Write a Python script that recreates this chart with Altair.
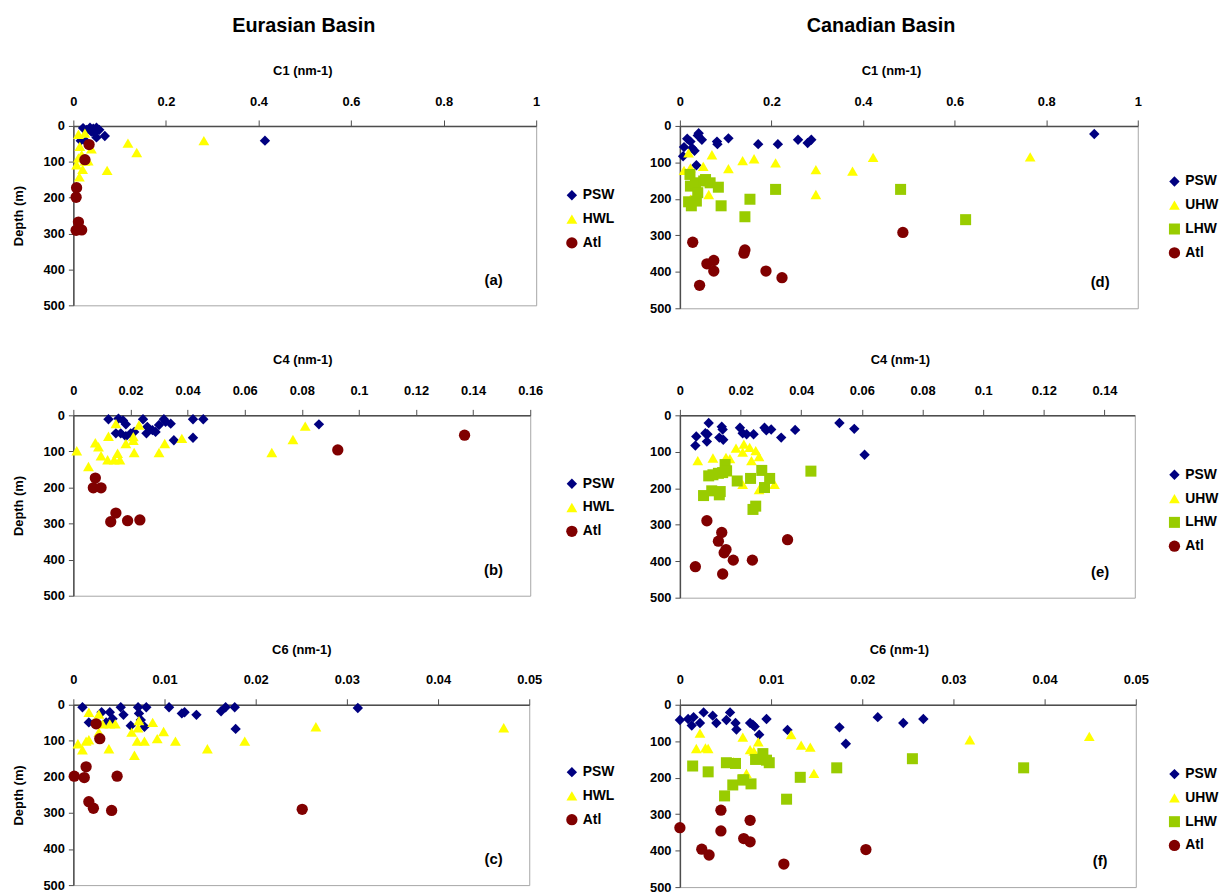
import altair as alt
import pandas as pd

# ---- depth profiles of CDOM absorption components, (value nm-1, depth m) ----
A_PSW = [(0.021, 6), (0.029, 11), (0.036, 5), (0.043, 8), (0.050, 5), (0.056, 11), (0.046, 20),
         (0.050, 32), (0.068, 28), (0.016, 41), (0.027, 43), (0.039, 16), (0.414, 41)]
A_HWL = [(0.011, 23), (0.025, 20), (0.118, 48), (0.137, 74), (0.282, 41), (0.073, 124), (0.014, 57),
         (0.039, 64), (0.018, 80), (0.032, 97), (0.007, 108), (0.020, 121), (0.013, 142), (0.025, 98),
         (0.011, 89)]
A_ATL = [(0.034, 52), (0.025, 94), (0.007, 172), (0.006, 199), (0.011, 268), (0.006, 291), (0.018, 290)]

B_PSW = [(0.0123, 11), (0.0158, 9), (0.0174, 14), (0.0184, 25), (0.0149, 50), (0.0166, 50), (0.0184, 58),
         (0.0201, 50), (0.0213, 46), (0.0244, 11), (0.0259, 32), (0.0256, 50), (0.0277, 41), (0.0288, 46),
         (0.0300, 27), (0.0317, 11), (0.0323, 18), (0.0341, 23), (0.0352, 69), (0.0419, 11), (0.0419, 62),
         (0.0455, 11), (0.0860, 25)]
B_HWL = [(0.0012, 98), (0.0053, 142), (0.0077, 76), (0.0088, 87), (0.0097, 112), (0.0120, 123), (0.0123, 58),
         (0.0149, 23), (0.0155, 105), (0.0143, 123), (0.0163, 123), (0.0184, 78), (0.0210, 59), (0.0210, 69),
         (0.0213, 103), (0.0230, 27), (0.0300, 103), (0.0320, 78), (0.0380, 64), (0.0695, 103), (0.0769, 67),
         (0.0812, 30)]
B_ATL = [(0.0077, 174), (0.0070, 201), (0.0097, 201), (0.0149, 271), (0.0131, 295), (0.0190, 292),
         (0.0233, 290), (0.0926, 96), (0.1370, 55)]

C_PSW = [(0.0010, 7), (0.0017, 49), (0.0031, 21), (0.0040, 21), (0.0043, 39), (0.0036, 49), (0.0052, 7),
         (0.0055, 28), (0.0063, 58), (0.0071, 7), (0.0072, 24), (0.0080, 7), (0.0078, 61), (0.0074, 42),
         (0.0105, 7), (0.0119, 24), (0.0122, 21), (0.0135, 28), (0.0162, 18), (0.0167, 7), (0.0177, 7),
         (0.0178, 67), (0.0312, 9)]
C_HWL = [(0.0017, 21), (0.0028, 26), (0.0032, 53), (0.0040, 53), (0.0046, 53), (0.0028, 76), (0.0005, 108),
         (0.0010, 125), (0.0014, 101), (0.0017, 97), (0.0039, 122), (0.0064, 76), (0.0071, 64), (0.0072, 44),
         (0.0067, 140), (0.0070, 101), (0.0078, 101), (0.0087, 49), (0.0092, 94), (0.0099, 74), (0.0112, 101),
         (0.0147, 122), (0.0188, 101), (0.0266, 61), (0.0472, 64)]
C_ATL = [(0.0025, 53), (0.0029, 94), (0.0014, 172), (0.0001, 198), (0.0012, 202), (0.0048, 198),
         (0.0017, 269), (0.0022, 287), (0.0042, 293), (0.0251, 290)]

D_PSW = [(0.009, 58), (0.007, 83), (0.016, 35), (0.023, 43), (0.027, 61), (0.032, 68), (0.036, 108),
         (0.041, 20), (0.039, 26), (0.048, 38), (0.081, 43), (0.082, 50), (0.106, 34), (0.171, 50),
         (0.214, 50), (0.258, 38), (0.279, 47), (0.287, 38), (0.905, 22)]
D_UHW = [(0.019, 74), (0.009, 122), (0.023, 115), (0.051, 111), (0.070, 79), (0.106, 117), (0.137, 95),
         (0.162, 90), (0.209, 101), (0.297, 120), (0.297, 188), (0.377, 124), (0.422, 86), (0.063, 188),
         (0.023, 201), (0.765, 85)]
D_LHW = [(0.022, 133), (0.023, 165), (0.034, 156), (0.039, 183), (0.036, 206), (0.019, 208), (0.025, 219),
         (0.052, 151), (0.056, 147), (0.066, 156), (0.084, 168), (0.090, 219), (0.142, 249), (0.153, 201),
         (0.209, 174), (0.482, 174), (0.624, 257)]
D_ATL = [(0.028, 319), (0.059, 378), (0.074, 369), (0.074, 398), (0.043, 437), (0.140, 349), (0.142, 340),
         (0.188, 398), (0.223, 416), (0.487, 292)]

E_PSW = [(0.0054, 58), (0.0051, 83), (0.0084, 49), (0.0095, 21), (0.0091, 52), (0.0089, 72), (0.0130, 61),
         (0.0138, 31), (0.0141, 39), (0.0143, 67), (0.0198, 34), (0.0207, 49), (0.0220, 52), (0.0243, 52),
         (0.0279, 34), (0.0285, 41), (0.0301, 39), (0.0334, 61), (0.0380, 40), (0.0526, 21), (0.0575, 37),
         (0.0609, 108)]
E_UHW = [(0.0059, 124), (0.0109, 117), (0.0152, 115), (0.0165, 119), (0.0185, 90), (0.0207, 101),
         (0.0211, 79), (0.0230, 88), (0.0236, 124), (0.0250, 97), (0.0261, 113), (0.0207, 189), (0.0261, 204),
         (0.0312, 189), (0.0154, 155)]
E_LHW = [(0.0078, 220), (0.0105, 207), (0.0133, 209), (0.0130, 218), (0.0095, 166), (0.0109, 163),
         (0.0127, 159), (0.0141, 157), (0.0149, 135), (0.0154, 152), (0.0189, 180), (0.0233, 173),
         (0.0270, 151), (0.0279, 198), (0.0296, 173), (0.0241, 258), (0.0250, 249), (0.0432, 153)]
E_ATL = [(0.0089, 289), (0.0138, 321), (0.0127, 345), (0.0152, 368), (0.0146, 377), (0.0176, 397),
         (0.0239, 397), (0.0355, 341), (0.0051, 415), (0.0141, 435)]

F_PSW = [(0.0000, 42), (0.0009, 39), (0.0015, 34), (0.0013, 57), (0.0022, 50), (0.0026, 21), (0.0036, 30),
         (0.0040, 50), (0.0051, 42), (0.0055, 21), (0.0061, 50), (0.0062, 68), (0.0077, 50), (0.0080, 55),
         (0.0082, 60), (0.0087, 82), (0.0095, 39), (0.0118, 69), (0.0175, 62), (0.0182, 107), (0.0217, 34),
         (0.0245, 50), (0.0267, 39)]
F_UHW = [(0.0022, 78), (0.0018, 120), (0.0028, 118), (0.0031, 120), (0.0069, 89), (0.0073, 188),
         (0.0077, 123), (0.0081, 127), (0.0086, 102), (0.0122, 82), (0.0133, 111), (0.0143, 116),
         (0.0147, 188), (0.0059, 156), (0.0318, 96), (0.0449, 87)]
F_LHW = [(0.0014, 168), (0.0031, 184), (0.0051, 159), (0.0061, 161), (0.0058, 220), (0.0049, 250),
         (0.0069, 206), (0.0070, 206), (0.0078, 217), (0.0083, 150), (0.0091, 134), (0.0095, 152),
         (0.0098, 159), (0.0117, 259), (0.0132, 199), (0.0172, 173), (0.0255, 148), (0.0377, 173)]
F_ATL = [(0.0000, 337), (0.0045, 289), (0.0045, 346), (0.0077, 317), (0.0070, 367), (0.0077, 376),
         (0.0024, 396), (0.0032, 412), (0.0114, 437), (0.0204, 397)]

DEPTH_TICKS = [0, 100, 200, 300, 400, 500]
C1_TICKS = [0, 0.2, 0.4, 0.6, 0.8, 1]
C4_TICKS_EUR = [0, 0.02, 0.04, 0.06, 0.08, 0.1, 0.12, 0.14, 0.16]
C4_TICKS_CAN = [0, 0.02, 0.04, 0.06, 0.08, 0.1, 0.12, 0.14]
C6_TICKS = [0, 0.01, 0.02, 0.03, 0.04, 0.05]

# series styling: colour, marker, marker area
STYLE = {
    "PSW": ("#000080", "diamond", 110),
    "HWL": ("#FFFF00", "triangle-up", 130),
    "UHW": ("#FFFF00", "triangle-up", 130),
    "LHW": ("#99CC00", "square", 85),
    "Atl": ("#800000", "circle", 85),
}

FONT = "Liberation Sans"


def panel(series, tag, domain, ticks, xtitle, width, height, title_x, legend_x, legend_y,
          ytitle=True, top_title=None, top_dx=0):
    rows = []
    for k, (name, pts) in enumerate(series):
        for val, dep in pts:
            rows.append({"water": name, "c": val, "depth": dep, "k": k})
    df = pd.DataFrame(rows)
    order = [name for name, _ in series]
    leg = alt.Legend(orient="none", legendX=legend_x, legendY=legend_y, title=None,
                     labelFont=FONT, labelFontSize=14, labelFontWeight="bold", labelColor="black",
                     symbolSize=55, symbolStrokeWidth=0, rowPadding=10, padding=0, labelOffset=4)
    pts = alt.Chart(df).mark_point(filled=True, opacity=1, strokeWidth=0).encode(
        x=alt.X("c:Q",
                scale=alt.Scale(domain=domain, nice=False, zero=True),
                axis=alt.Axis(orient="top", values=ticks, format="~g", title=xtitle,
                              titleX=title_x, titleY=-56, titleBaseline="middle", titleAlign="center",
                              labelFlush=False, labelOverlap=False, tickSize=6, labelPadding=12)),
        y=alt.Y("depth:Q",
                scale=alt.Scale(domain=[0, 500], reverse=True, nice=False),
                axis=alt.Axis(values=DEPTH_TICKS, title="Depth (m)" if ytitle else None,
                              titleX=-55, titleY=height / 2, titleBaseline="middle", titleAngle=-90,
                              titleAlign="center", labelFlush=False, tickSize=5, labelPadding=4)),
        color=alt.Color("water:N", scale=alt.Scale(domain=order, range=[STYLE[n][0] for n in order]),
                        legend=leg),
        shape=alt.Shape("water:N", scale=alt.Scale(domain=order, range=[STYLE[n][1] for n in order]),
                        legend=leg),
        size=alt.Size("water:N", scale=alt.Scale(domain=order, range=[STYLE[n][2] for n in order]),
                      legend=None),
        order=alt.Order("k:Q"),
    )
    lab = alt.Chart(pd.DataFrame({"t": [tag]})).mark_text(
        font=FONT, fontSize=15, fontWeight="bold", color="black", align="center", baseline="middle"
    ).encode(x=alt.value(424), y=alt.value(height - 26), text="t:N")
    props = dict(width=width, height=height)
    if top_title:
        props["title"] = alt.TitleParams(top_title, anchor="middle", dx=top_dx, offset=29,
                                         font=FONT, fontSize=20, fontWeight="bold", color="black")
    return alt.layer(pts, lab).properties(**props)


pa = panel([("PSW", A_PSW), ("HWL", A_HWL), ("Atl", A_ATL)], "(a)", [0, 1], C1_TICKS, "C1 (nm-1)",
           467, 181, 231, 496, 63, top_title="Eurasian Basin", top_dx=-1)
pb = panel([("PSW", B_PSW), ("HWL", B_HWL), ("Atl", B_ATL)], "(b)", [0, 0.16], C4_TICKS_EUR, "C4 (nm-1)",
           461, 182, 231, 496, 62)
pc = panel([("PSW", C_PSW), ("HWL", C_HWL), ("Atl", C_ATL)], "(c)", [0, 0.05], C6_TICKS, "C6 (nm-1)",
           460, 182, 230, 496, 61)

pd_ = panel([("PSW", D_PSW), ("UHW", D_UHW), ("LHW", D_LHW), ("Atl", D_ATL)], "(d)", [0, 1], C1_TICKS,
            "C1 (nm-1)", 462, 184, 213, 492, 49, ytitle=False, top_title="Canadian Basin", top_dx=-28)
pe = panel([("PSW", E_PSW), ("UHW", E_UHW), ("LHW", E_LHW), ("Atl", E_ATL)], "(e)", [0, 0.15],
           C4_TICKS_CAN, "C4 (nm-1)", 459, 184, 222, 492, 53, ytitle=False)
pf = panel([("PSW", F_PSW), ("UHW", F_UHW), ("LHW", F_LHW), ("Atl", F_ATL)], "(f)", [0, 0.05], C6_TICKS,
           "C6 (nm-1)", 460, 184, 221, 492, 63, ytitle=False)

# two columns (Eurasian | Canadian), three rows (C1, C4, C6); spacing measured between plot areas
chart = alt.concat(
    pa, pd_, pb, pe, pc, pf, columns=2, spacing={"row": 108, "column": 145}, bounds="flush", align="each"
).resolve_scale(
    x="independent", y="independent", color="independent", shape="independent", size="independent"
).resolve_legend(color="independent", shape="independent").properties(
    padding={"left": 12, "top": 11, "right": 5, "bottom": 5}, background="white"
).configure_view(
    stroke="#a6a6a6", strokeWidth=1
).configure_axis(
    grid=False, domainColor="#4d4d4d", domainWidth=1.5, tickColor="#4d4d4d", tickWidth=1,
    labelFont=FONT, labelFontSize=13, labelFontWeight="bold", labelColor="black",
    titleFont=FONT, titleFontSize=13, titleFontWeight="bold", titleColor="black"
)

chart.save("out.html", embed_options={"renderer": "svg", "actions": False})
